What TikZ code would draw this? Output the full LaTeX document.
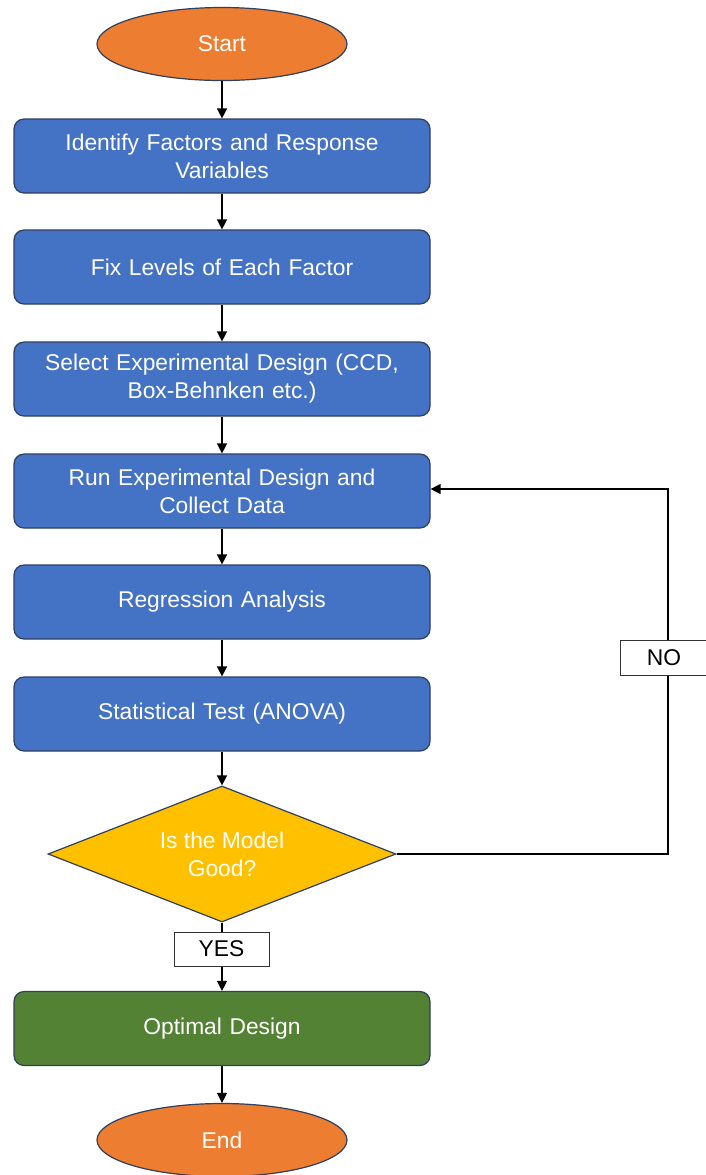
\documentclass[tikz,border=0pt]{standalone}
\usepackage{fontspec}
\setmainfont{Liberation Sans}
\usetikzlibrary{shapes.geometric,arrows.meta}
\definecolor{boxblue}{HTML}{4472C4}
\definecolor{ovorange}{HTML}{ED7D31}
\definecolor{dyellow}{HTML}{FFC000}
\definecolor{okgreen}{HTML}{548235}
\definecolor{edgec}{HTML}{2F3F5F}
\begin{document}
\begin{tikzpicture}[x=0.5pt,y=-0.5pt,
  every node/.style={font=\fontsize{11.4}{14}\selectfont},
  stepbox/.style={draw=edgec,line width=0.6pt,fill=boxblue,text=white,rounded corners=5pt,
     minimum width=208pt,minimum height=37pt,align=center,text width=195pt},
  terminal/.style={draw=edgec,line width=0.6pt,ellipse,fill=ovorange,text=white,minimum width=125pt,minimum height=36.5pt,inner sep=0pt},
  decision/.style={draw=edgec,line width=0.6pt,diamond,fill=dyellow,text=white,minimum width=174pt,minimum height=68pt,inner sep=0pt,aspect=2.56,align=center},
  lab/.style={draw=black!80,line width=0.5pt,fill=white,text=black,inner sep=0pt},
  conn/.style={draw=black,line width=0.7pt,-{Triangle[length=5pt,width=5pt]}}]
\useasboundingbox (0,0) rectangle (706,1175);
\node[terminal] (start) at (222,44) {Start};
\node[stepbox] (b1) at (222,156) {Identify Factors and Response\\Variables};
\node[stepbox] (b2) at (222,267) {Fix Levels of Each Factor};
\node[stepbox] (b3) at (222,379) {Select Experimental Design (CCD,\\Box-Behnken etc.)};
\node[stepbox] (b4) at (222,491) {Run Experimental Design and\\Collect Data};
\node[stepbox] (b5) at (222,602) {Regression Analysis};
\node[stepbox] (b6) at (222,714) {Statistical Test (ANOVA)};
\node[decision] (dec) at (222,854) {Is the Model\\Good?};
\node[stepbox,fill=okgreen] (opt) at (222,1028.5) {Optimal Design};
\node[terminal] (end) at (222,1140) {End};
\draw[conn] (start) -- (b1);
\draw[conn] (b1) -- (b2);
\draw[conn] (b2) -- (b3);
\draw[conn] (b3) -- (b4);
\draw[conn] (b4) -- (b5);
\draw[conn] (b5) -- (b6);
\draw[conn] (b6) -- (dec);
\draw[conn] (dec) -- (opt);
\draw[conn] (opt) -- (end);
\coordinate (cr) at (668,854);
\coordinate (ct) at (668,489);
\draw[conn] (dec.east) -- (cr) -- (ct) -- (b4.east |- ct);
\node[lab,minimum width=47.5pt,minimum height=17pt] (yes) at (221.5,949) {YES};
\node[lab,minimum width=44pt,minimum height=17.5pt] (no) at (664,657.5) {NO};
\end{tikzpicture}
\end{document}
